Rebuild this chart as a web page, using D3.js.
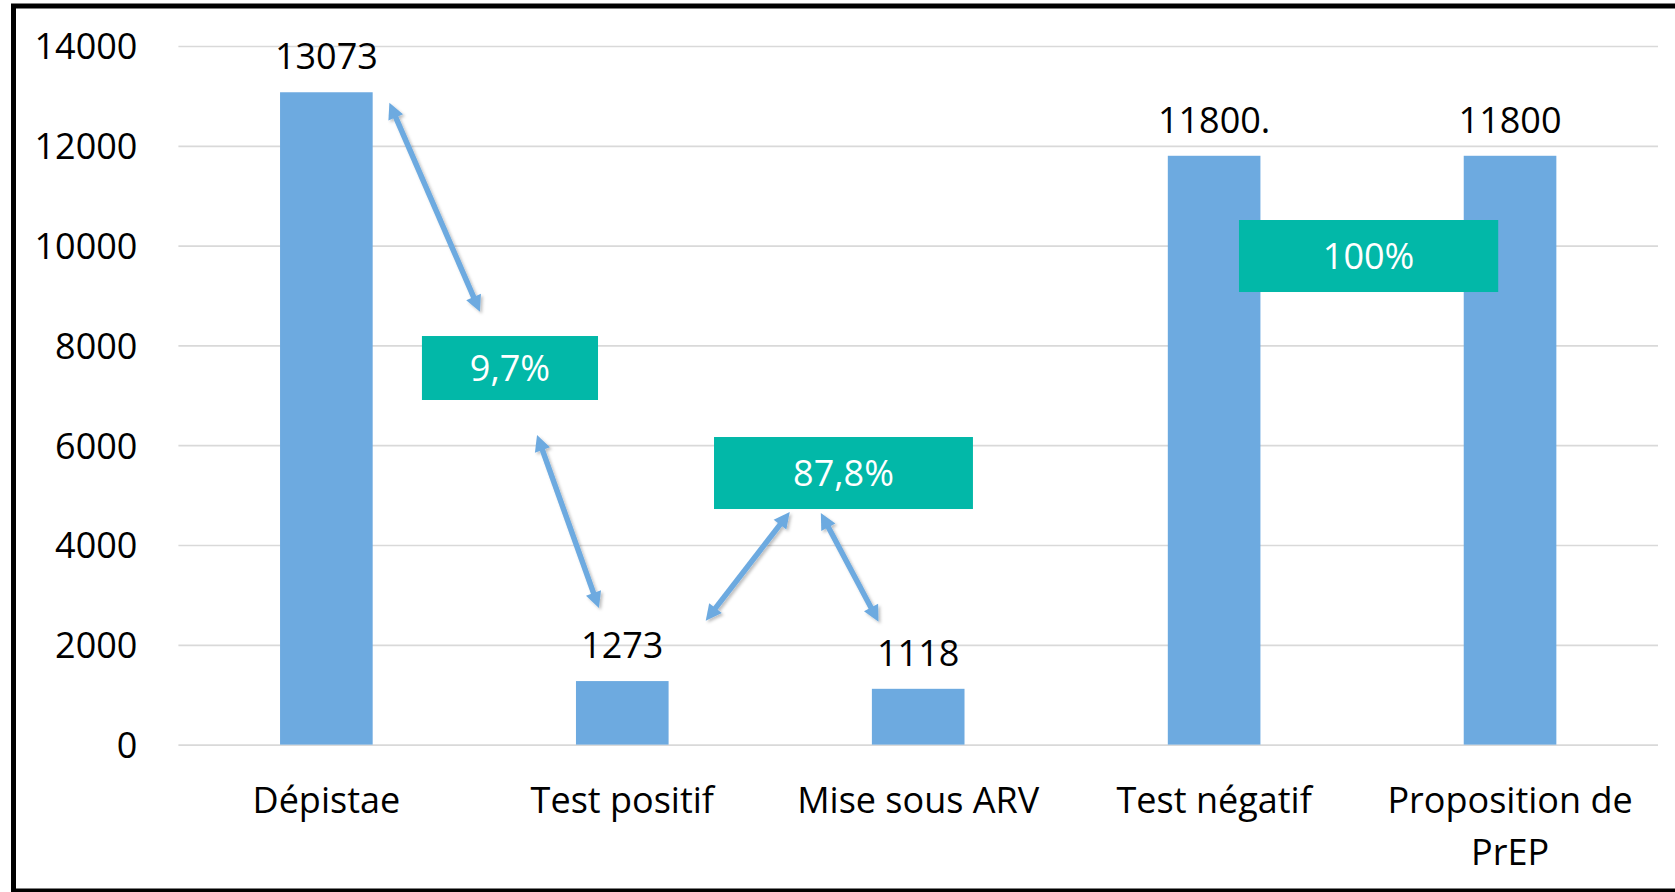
<!DOCTYPE html>
<html>
<head>
<meta charset="utf-8">
<script src="https://cdn.jsdelivr.net/npm/d3@7"></script>
<style>
  html, body { margin: 0; padding: 0; background: #ffffff; }
  svg { display: block; }
  text { font-family: "Open Sans", "Noto Sans", sans-serif; }
</style>
</head>
<body>
<svg id="chart" width="1675" height="892"></svg>
<script>
// ---- data ----
const categories = ["Dépistae", "Test positif", "Mise sous ARV", "Test négatif", "Proposition de PrEP"];
const values = [13073, 1273, 1118, 11800, 11800];
const valueLabels = ["13073", "1273", "1118", "11800.", "11800"];
const yTicks = [0, 2000, 4000, 6000, 8000, 10000, 12000, 14000];

// percentage boxes: category-index span and value span
const boxLabels = ["9,7%", "87,8%", "100%"];
const boxIdxFrom = [0.323, 1.310, 3.084];
const boxIdxTo = [0.918, 2.185, 3.960];
const boxValTop = [8188, 6164, 10513];
const boxValBottom = [6906, 4721, 9070];

// double-headed arrows: (category-index, value) endpoints
const arrowIdxA = [0.213, 0.712, 1.282, 1.671];
const arrowValA = [12864, 6205, 2483, 4641];
const arrowIdxB = [0.519, 0.921, 1.566, 1.866];
const arrowValB = [8675, 2737, 4661, 2463];

// ---- layout ----
const W = 1675, H = 892;
const plotLeft = 178.4, plotRight = 1658, plotTop = 46, plotBottom = 744.6;
const barColor = "#6DAAE0";
const boxColor = "#02B8A8";
const gridColor = "#D9D9D9";
const fontSize = 36;

const svg = d3.select("#chart");
svg.append("rect").attr("width", W).attr("height", H).attr("fill", "#fff");

const x = d3.scaleBand().domain(categories).range([plotLeft, plotRight])
  .paddingInner(0.687).paddingOuter(0.3435);
const y = d3.scaleLinear().domain([0, 14000]).range([plotBottom, plotTop]);
const step = x.step();
const c0 = x(categories[0]) + x.bandwidth() / 2;
const xi = d3.scaleLinear().domain([0, categories.length - 1])
  .range([c0, c0 + step * (categories.length - 1)]);

// grid + y axis
const yAxis = svg.append("g").attr("transform", `translate(${plotLeft},0)`)
  .call(d3.axisLeft(y).tickValues(yTicks).tickSize(-(plotRight - plotLeft)).tickPadding(41).tickFormat(d3.format("d")));
yAxis.select(".domain").remove();
yAxis.selectAll(".tick line").attr("stroke", gridColor).attr("stroke-width", 1.7);
yAxis.selectAll(".tick text").attr("fill", "#000").style("font-size", fontSize + "px")
  .style("font-family", '"Open Sans", sans-serif').attr("dy", "0.36em");

// bars
svg.append("g").selectAll("rect").data(values).join("rect")
  .attr("x", (d, i) => x(categories[i]))
  .attr("width", x.bandwidth())
  .attr("y", d => y(d))
  .attr("height", d => y(0) - y(d))
  .attr("fill", barColor);

// value labels
svg.append("g").selectAll("text").data(values).join("text")
  .attr("x", (d, i) => x(categories[i]) + x.bandwidth() / 2)
  .attr("y", d => y(d) - 23)
  .attr("text-anchor", "middle")
  .attr("fill", "#000")
  .style("font-size", fontSize + "px")
  .text((d, i) => valueLabels[i]);

// x axis
const xAxis = svg.append("g").attr("transform", `translate(0,${plotBottom})`)
  .call(d3.axisBottom(x).tickSize(0).tickPadding(0));
xAxis.select(".domain").remove();
xAxis.selectAll(".tick text").attr("fill", "#000").style("font-size", fontSize + "px")
  .style("font-family", '"Open Sans", sans-serif')
  .each(function(d) {
    const t = d3.select(this);
    const words = d.split(" ");
    t.text(null).attr("y", 0).attr("dy", null);
    const maxW = 285;
    let line = [];
    let lines = [];
    let tspan = t.append("tspan").attr("x", 0);
    words.forEach(w => {
      line.push(w);
      tspan.text(line.join(" "));
      if (tspan.node().getComputedTextLength() > maxW && line.length > 1) {
        line.pop();
        lines.push(line.join(" "));
        line = [w];
        tspan.text(w);
      }
    });
    lines.push(line.join(" "));
    t.text(null);
    lines.forEach((l, k) => {
      t.append("tspan").attr("x", 0).attr("y", 68 + k * 52).text(l);
    });
  });

// arrows
const defs = svg.append("defs");
const f = defs.append("filter").attr("id", "shadow").attr("x", "-20%").attr("y", "-20%").attr("width", "140%").attr("height", "140%");
f.append("feDropShadow").attr("dx", 2).attr("dy", 2).attr("stdDeviation", 1.5)
  .attr("flood-color", "#000").attr("flood-opacity", 0.25);

const arrowG = svg.append("g").attr("filter", "url(#shadow)");
const headLen = 16, headHalf = 8, lineW = 5.5;
arrowIdxA.forEach((_, i) => {
  const ax = xi(arrowIdxA[i]), ay = y(arrowValA[i]);
  const bx = xi(arrowIdxB[i]), by = y(arrowValB[i]);
  const dx = bx - ax, dy = by - ay, len = Math.hypot(dx, dy);
  const ux = dx / len, uy = dy / len, px = -uy, py = ux;
  const g = arrowG.append("g");
  g.append("line")
    .attr("x1", ax + ux * (headLen - 1)).attr("y1", ay + uy * (headLen - 1))
    .attr("x2", bx - ux * (headLen - 1)).attr("y2", by - uy * (headLen - 1))
    .attr("stroke", barColor).attr("stroke-width", lineW);
  const head = (tx, ty, sx, sy) => {
    const bxp = tx + sx * headLen, byp = ty + sy * headLen;
    return [[tx, ty], [bxp + px * headHalf, byp + py * headHalf], [bxp - px * headHalf, byp - py * headHalf]];
  };
  [head(ax, ay, ux, uy), head(bx, by, -ux, -uy)].forEach(pts => {
    g.append("polygon").attr("points", pts.map(p => p.join(",")).join(" ")).attr("fill", barColor);
  });
});

// percentage boxes
const boxG = svg.append("g");
boxLabels.forEach((lab, i) => {
  const x0 = xi(boxIdxFrom[i]), x1 = xi(boxIdxTo[i]);
  const y0 = y(boxValTop[i]), y1 = y(boxValBottom[i]);
  boxG.append("rect").attr("x", x0).attr("y", y0).attr("width", x1 - x0).attr("height", y1 - y0)
    .attr("fill", boxColor);
  boxG.append("text").attr("x", (x0 + x1) / 2).attr("y", (y0 + y1) / 2).attr("dy", "0.36em")
    .attr("text-anchor", "middle").attr("fill", "#fff").style("font-size", fontSize + "px").text(lab);
});

// outer frame
svg.append("rect").attr("x", 13.5).attr("y", 6).attr("width", W + 20).attr("height", 885)
  .attr("fill", "none").attr("stroke", "#000").attr("stroke-width", 5);
</script>
</body>
</html>
